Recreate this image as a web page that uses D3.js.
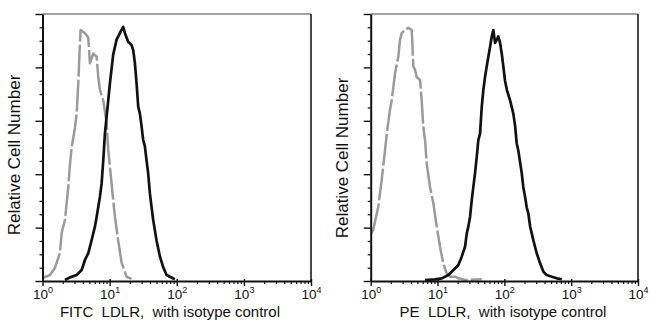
<!DOCTYPE html>
<html><head><meta charset="utf-8">
<script src="https://cdn.jsdelivr.net/npm/d3@7"></script>
<style>body{margin:0;background:#fff} svg{display:block}</style>
</head><body>
<svg id="chart" width="650" height="328"></svg>
<script>
// ---- data ----
const xDecades = [1, 10, 100, 1000, 10000];
const yMajorTicks = [0, 50, 100, 150, 200, 250];
const panelTitles = ["FITC  LDLR,  with isotype control", "PE  LDLR,  with isotype control"];
const yTitle = "Relative Cell Number";

// FITC panel: isotype control (gray) and LDLR (black)
const fitcIsoX = [1.0,1.29,1.53,1.82,1.93,2.16,2.42,2.57,2.72,3.05,3.23,3.41,3.61,3.70,4.29,4.80,5.09,5.70,6.41,6.77,7.17,8.04,9.02,9.53,10.1,11.3,12.0,13.4,15.1,17.9,21.2];
const fitcIsoY = [2.8,5.6,12.2,26.2,44.9,57.1,88,110,125,144,157,185,223,235,232,228,204,213,210,191,179,169,148,123,107,76,60,38,17,4,2];
const fitcLdlrX = [2.16,2.57,3.23,3.83,4.29,4.80,5.40,6.04,6.41,7.17,7.60,8.04,8.51,9.02,10.1,11.3,12.7,14.2,15.9,16.9,18.9,21.2,22.5,23.8,25.2,26.7,28.2,29.9,31.6,33.5,35.5,37.5,39.8,42.2,44.6,50.0,56.1,62.8,70.5,78.9,93.7];
const fitcLdlrY = [0.9,3.4,5.6,10.3,19.7,25.9,38.4,50.9,60.2,78.9,91.4,113,138,154,185,212,226,232,238,232,224,221,216,204,185,163,157,145,132,126,113,101,82,69,57,38,23,13,5.6,4.0,1.6];

// PE panel
const peIsoX = [1.0,1.09,1.30,1.46,1.64,1.74,1.94,2.06,2.31,2.59,2.75,2.91,3.26,3.66,4.11,4.20,4.34,4.60,4.88,5.47,5.80,6.13,6.50,6.89,7.72,8.65,9.72,10.9,12.2,13.7,15.4,18.3,20.5,25.8,45.9];
const peIsoY = [44,47.7,69.7,94.6,122.7,138,160,169,194,210,226,232,235,237,235,223,201,198,191,188,169,144,132,110,88,73,51,32,16.2,7.2,4.0,4.0,2.5,0.9,1.6];
const peLdlrX = [6.50,9.18,11.6,14.5,17.3,20.5,23.0,25.8,27.4,28.9,30.7,32.5,34.4,36.4,38.6,40.8,43.3,45.9,48.5,51.4,54.5,57.6,61.1,64.8,68.4,72.6,76.9,81.3,86.3,91.4,96.6,102,109,122,136,145,153,162,182,192,204,216,229,243,272,305,342,384,431,512,609,723];
const peLdlrY = [0.9,1.6,2.5,5.6,10.3,15.0,22.8,32.1,44.6,50.9,60.2,75.8,88.3,101,116,132,138,163,179,191,201,210,219,229,235,223,226,229,223,213,201,188,179,169,157,145,129,122,101,88,79,69,63,51,38,26,16.8,8.7,5.6,4.0,2.5,1.6];

// ---- layout ----
const svg = d3.select("#chart");
const font = "'Liberation Sans', Arial, Helvetica, sans-serif";
const plotTop = 14, plotBottom = 281;

const panels = [
  {x0: 42.5, x1: 311, titleX: 170, yTitleX: 20, yTitleY: 155, title: panelTitles[0],
   iso: [fitcIsoX, fitcIsoY], ldlr: [fitcLdlrX, fitcLdlrY]},
  {x0: 370.7, x1: 638, titleX: 503, yTitleX: 348, yTitleY: 158, title: panelTitles[1],
   iso: [peIsoX, peIsoY], ldlr: [peLdlrX, peLdlrY]}
];

const minorX = [];
for (let d = 0; d < 4; d++) for (let k = 2; k <= 9; k++) minorX.push(k * Math.pow(10, d));
const minorY = d3.range(0, 250.1, 12.5).filter(v => v % 50 !== 0);

panels.forEach((p, i) => {
  const x = d3.scaleLog().domain([1, 10000]).range([p.x0, p.x1]);
  const y = d3.scaleLinear().domain([0, 250]).range([plotBottom, plotTop]);
  const g = svg.append("g");

  const clipId = "clip" + i;
  svg.append("clipPath").attr("id", clipId).append("rect")
    .attr("x", p.x0).attr("y", plotTop - 2).attr("width", p.x1 - p.x0).attr("height", plotBottom - plotTop + 2);

  // frame top/right
  g.append("line").attr("x1", p.x0).attr("x2", p.x1).attr("y1", plotTop).attr("y2", plotTop)
    .attr("stroke", "#444").attr("stroke-width", 1.2);
  g.append("line").attr("x1", p.x1).attr("x2", p.x1).attr("y1", plotTop).attr("y2", plotBottom)
    .attr("stroke", "#333").attr("stroke-width", 1.8);

  const line = d3.line().x(d => x(d[0])).y(d => y(d[1]));
  const iso = d3.zip(p.iso[0], p.iso[1]);
  const ldlr = d3.zip(p.ldlr[0], p.ldlr[1]);
  const curves = g.append("g").attr("clip-path", `url(#${clipId})`);
  curves.append("path").datum(iso).attr("d", line).attr("fill", "none")
    .attr("stroke", "#9a9a9a").attr("stroke-width", 2.5).attr("stroke-dasharray", "32,3")
    .attr("stroke-linejoin", "round");
  curves.append("path").datum(ldlr).attr("d", line).attr("fill", "none")
    .attr("stroke", "#111").attr("stroke-width", 2.7).attr("stroke-linejoin", "round");

  // y axis: minor then major
  g.append("g").attr("transform", `translate(${p.x0},0)`)
    .call(d3.axisLeft(y).tickValues(minorY).tickSize(3).tickSizeOuter(0).tickFormat(""))
    .call(a => a.select(".domain").remove())
    .call(a => a.selectAll("line").attr("stroke", "#111").attr("stroke-width", 1.2));
  g.append("g").attr("transform", `translate(${p.x0},0)`)
    .call(d3.axisLeft(y).tickValues(yMajorTicks).tickSize(7).tickSizeOuter(0).tickFormat(""))
    .call(a => a.select(".domain").attr("stroke", "#111").attr("stroke-width", 2))
    .call(a => a.selectAll("line").attr("stroke", "#111").attr("stroke-width", 1.4));

  // x axis: minor then major with labels
  g.append("g").attr("transform", `translate(0,${plotBottom})`)
    .call(d3.axisBottom(x).tickValues(minorX).tickSize(3).tickSizeOuter(0).tickFormat(""))
    .call(a => a.select(".domain").remove())
    .call(a => a.selectAll("line").attr("stroke", "#111").attr("stroke-width", 1.2));
  g.append("g").attr("transform", `translate(0,${plotBottom})`)
    .call(d3.axisBottom(x).tickValues(xDecades).tickSize(5).tickSizeOuter(0).tickPadding(3))
    .call(a => a.select(".domain").attr("stroke", "#111").attr("stroke-width", 2))
    .call(a => a.selectAll("line").attr("stroke", "#111").attr("stroke-width", 1.4).attr("y1", -2))
    .call(a => a.selectAll("text").each(function(d) {
      const t = d3.select(this);
      t.text("10").attr("font-family", font).attr("font-size", 13.5).attr("fill", "#111");
      t.append("tspan").attr("dy", -5.5).attr("font-size", 9).text(Math.round(Math.log10(d)));
    }));

  // titles
  g.append("text").attr("x", p.titleX).attr("y", 317).attr("text-anchor", "middle")
    .style("white-space", "pre").attr("xml:space", "preserve")
    .attr("font-family", font).attr("font-size", 15).attr("fill", "#111").text(p.title);
  g.append("text").attr("transform", `translate(${p.yTitleX},${p.yTitleY}) rotate(-90)`)
    .attr("text-anchor", "middle").attr("font-family", font).attr("font-size", 17)
    .attr("fill", "#111").text(yTitle);
});
</script>
</body></html>
